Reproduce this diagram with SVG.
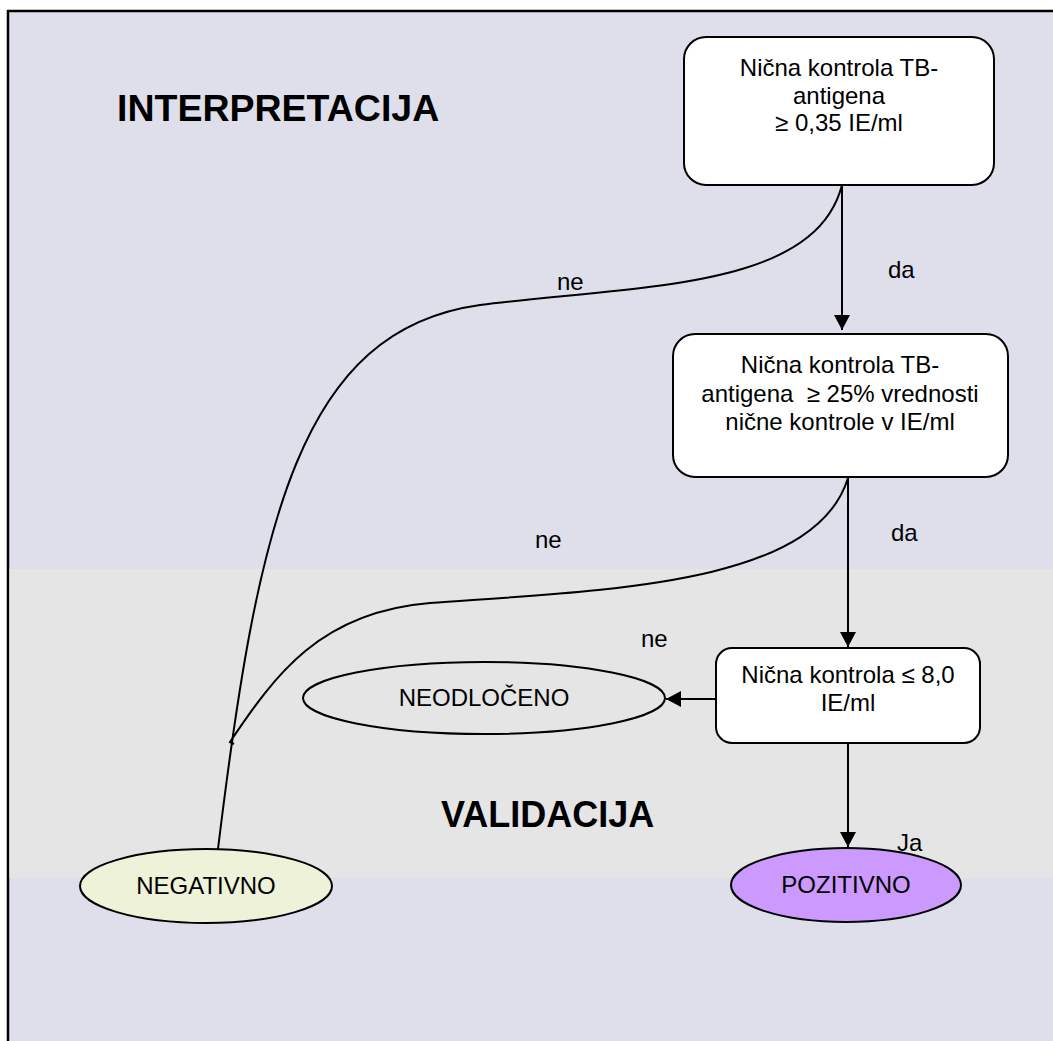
<svg xmlns="http://www.w3.org/2000/svg" width="1053" height="1041" viewBox="0 0 1053 1041">
<defs>
<marker id="arr" markerWidth="16" markerHeight="16" refX="15" refY="8" orient="auto" markerUnits="userSpaceOnUse">
<path d="M0,0 L15,8 L0,16 Z" fill="#000"/>
</marker>
<style>
.box{fill:#fff;stroke:#000;stroke-width:2}
.t{font-family:"Liberation Sans",Arial,sans-serif;font-size:24px;fill:#000;text-anchor:middle}
.lbl{font-family:"Liberation Sans",Arial,sans-serif;font-size:24px;fill:#000}
.title{font-family:"Liberation Sans",Arial,sans-serif;font-weight:bold;fill:#000}
.ln{fill:none;stroke:#000;stroke-width:2}
</style>
</defs>
<rect x="8" y="11" width="1060" height="1050" fill="#DFDFEB" stroke="#000" stroke-width="2.5"/>
<rect x="9.5" y="569" width="1050" height="309" fill="#E5E5E5"/>
<text class="title" x="117" y="121" font-size="37.5">INTERPRETACIJA</text>
<text class="title" x="441" y="827" font-size="36">VALIDACIJA</text>
<g id="connectors">
<line class="ln" x1="842" y1="185" x2="842" y2="330" marker-end="url(#arr)"/>
<line class="ln" x1="848" y1="478" x2="848" y2="647" marker-end="url(#arr)"/>
<line class="ln" x1="716" y1="699" x2="666" y2="699" marker-end="url(#arr)"/>
<line class="ln" x1="848" y1="743" x2="848" y2="847" marker-end="url(#arr)"/>
<path class="ln" d="M842,185 C815,290 640,285 480,305 C300,330 258,520 218,849"/>
<path class="ln" d="M848,478 C815,585 610,590 430,603 C320,612 275,675 230,742 L234,744"/>
</g>
<g id="n1">
<rect class="box" x="684" y="37" width="310" height="148" rx="22"/>
<text class="t" x="839" y="76">Nična kontrola TB-</text>
<text class="t" x="839" y="104">antigena</text>
<text class="t" x="839" y="131">≥ 0,35 IE/ml</text>
</g>
<g id="n2">
<rect class="box" x="673" y="334" width="335" height="143" rx="22"/>
<text class="t" x="840" y="373">Nična kontrola TB-</text>
<text class="t" x="840" y="402" xml:space="preserve">antigena  ≥ 25% vrednosti</text>
<text class="t" x="840" y="430">nične kontrole v IE/ml</text>
</g>
<g id="n3">
<rect class="box" x="716" y="648" width="264" height="95" rx="16"/>
<text class="t" x="848" y="683">Nična kontrola ≤ 8,0</text>
<text class="t" x="848" y="711">IE/ml</text>
</g>
<g id="neodloceno">
<ellipse cx="484" cy="698" rx="181" ry="36" fill="#E5E5E5" stroke="#000" stroke-width="2"/>
<text class="t" x="484" y="706">NEODLOČENO</text>
</g>
<g id="negativno">
<ellipse cx="206" cy="886" rx="126" ry="37" fill="#EEF2D8" stroke="#000" stroke-width="2"/>
<text class="t" x="206" y="894">NEGATIVNO</text>
</g>
<g id="pozitivno">
<ellipse cx="846" cy="885" rx="115" ry="37" fill="#CC99FF" stroke="#000" stroke-width="2"/>
<text class="t" x="846" y="893">POZITIVNO</text>
</g>
<g id="labels">
<text class="lbl" x="557" y="290">ne</text>
<text class="lbl" x="888" y="278">da</text>
<text class="lbl" x="535" y="548">ne</text>
<text class="lbl" x="891" y="541">da</text>
<text class="lbl" x="641" y="647">ne</text>
<text class="lbl" x="897" y="851">Ja</text>
</g>
</svg>
